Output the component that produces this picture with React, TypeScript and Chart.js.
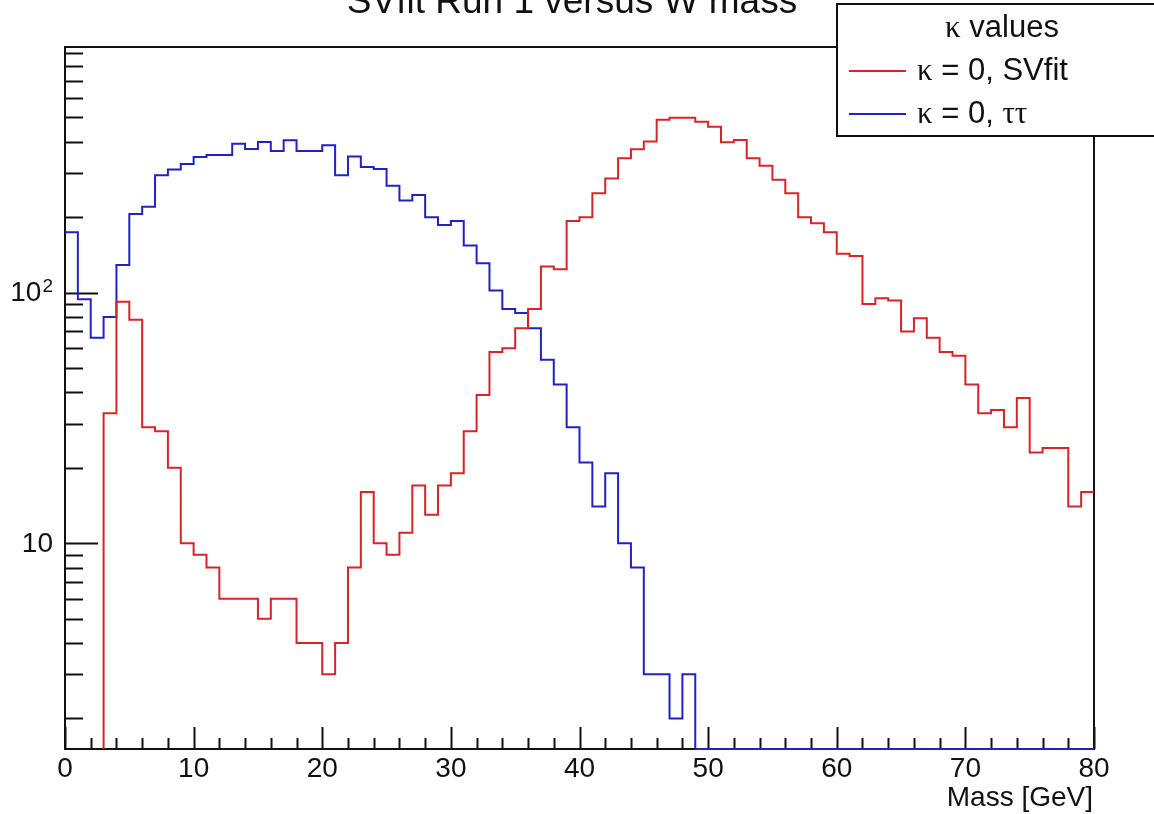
import React, { useEffect, useRef } from 'react';
import { Chart, registerables } from 'chart.js';

Chart.register(...registerables);

// ---- data (1 GeV bins from 0 to 80 GeV) ----
const binLowEdges: number[] = Array.from({ length: 80 }, (_, i) => i);
const histMax = 80;

const svfitCounts: number[] = [
  0, 0, 0, 33, 92, 78, 29, 28, 20, 10,
  9, 8, 6, 6, 6, 5, 6, 6, 4, 4,
  3, 4, 8, 16, 10, 9, 11, 17, 13, 17,
  19, 28, 39, 58, 60, 72, 86, 127, 124, 193,
  200, 249, 285, 344, 373, 401, 489, 499, 499, 481,
  459, 398, 406, 344, 321, 282, 249, 200, 189, 174,
  143, 140, 90, 95, 93, 70, 79, 66, 58, 56,
  43, 33, 34, 29, 38, 23, 24, 24, 14, 16,
];

const tautauCounts: number[] = [
  174, 94, 66, 80, 129, 206, 220, 294, 310, 326,
  348, 354, 354, 393, 374, 399, 367, 405, 367, 367,
  387, 294, 349, 317, 311, 267, 233, 245, 200, 186,
  193, 154, 131, 102, 86, 83, 72, 54, 43, 29,
  21, 14, 19, 10, 8, 3, 3, 2, 3, 0,
  0, 0, 0, 0, 0, 0, 0, 0, 0, 0,
  0, 0, 0, 0, 0, 0, 0, 0, 0, 0,
  0, 0, 0, 0, 0, 0, 0, 0, 0, 0,
];

const xTickValues: number[] = [0, 10, 20, 30, 40, 50, 60, 70, 80];
const xTickLabels: string[] = ['0', '10', '20', '30', '40', '50', '60', '70', '80'];
const xMinorStep = 2;
const yMajorValues: number[] = [10, 100];
const yMajorBase: string[] = ['10', '10'];
const yMajorExp: string[] = ['', '2'];
const yMin = 1.51;
const yMax = 955;

const titleText = 'SVfit Run 1 versus W mass';
const xAxisTitle = 'Mass [GeV]';
const legendHeader = 'values';
const seriesNames: string[] = ['SVfit', 'ττ'];
const seriesColors: string[] = ['rgb(214,36,40)', 'rgb(34,34,196)'];

const SANS = '"Liberation Sans", Arial, Helvetica, sans-serif';
const SERIF = '"Liberation Serif", "Times New Roman", serif';

// Empty bins on a log axis are drawn on the axis floor (as ROOT does)
function histPoints(counts: number[]) {
  const pts: { x: number; y: number }[] = [];
  const val = (c: number) => (c > 0 ? c : yMin);
  let first = counts.findIndex((c) => c > 0);
  if (first < 0) first = 0;
  if (first > 0) pts.push({ x: binLowEdges[first], y: yMin });
  for (let i = first; i < counts.length; i++) pts.push({ x: binLowEdges[i], y: val(counts[i]) });
  pts.push({ x: histMax, y: val(counts[counts.length - 1]) });
  return pts;
}

const rootPlugin = {
  id: 'rootStyle',
  beforeDatasetsDraw(chart: any) {
    const { ctx, chartArea: a, scales } = chart;
    const x = scales.x;
    const y = scales.y;
    ctx.save();
    ctx.strokeStyle = '#111';
    ctx.lineWidth = 2;
    ctx.strokeRect(a.left, a.top, a.right - a.left, a.bottom - a.top);
    ctx.beginPath();
    for (let v = xTickValues[0]; v <= xTickValues[xTickValues.length - 1]; v += xMinorStep) {
      const px = Math.round(x.getPixelForValue(v)) + 0.5;
      const major = xTickValues.includes(v);
      const len = major ? 22 : 11;
      ctx.moveTo(px, a.bottom);
      ctx.lineTo(px, a.bottom - len);
    }
    for (let dec = 1; dec <= 1000; dec *= 10) {
      for (let m = 1; m <= 9; m++) {
        const v = dec * m;
        if (v < yMin || v > yMax) continue;
        const py = Math.round(y.getPixelForValue(v)) + 0.5;
        const major = yMajorValues.includes(v);
        const len = major ? 33 : 18;
        ctx.moveTo(a.left, py);
        ctx.lineTo(a.left + len, py);
      }
    }
    ctx.stroke();
    ctx.restore();
  },
  afterDraw(chart: any) {
    const { ctx, chartArea: a, scales } = chart;
    const x = scales.x;
    const y = scales.y;
    ctx.save();
    ctx.fillStyle = '#111';
    ctx.font = `28px ${SANS}`;
    ctx.textAlign = 'center';
    ctx.textBaseline = 'middle';
    xTickValues.forEach((v, i) => {
      ctx.fillText(xTickLabels[i], x.getPixelForValue(v), a.bottom + 20);
    });
    yMajorValues.forEach((v, i) => {
      const py = y.getPixelForValue(v);
      const right = a.left - 12;
      let baseRight = right;
      if (yMajorExp[i]) {
        ctx.font = `19px ${SANS}`;
        ctx.textAlign = 'right';
        ctx.textBaseline = 'alphabetic';
        ctx.fillText(yMajorExp[i], right, py - 1);
        baseRight = right - ctx.measureText(yMajorExp[i]).width - 1;
      }
      ctx.font = `28px ${SANS}`;
      ctx.textAlign = 'right';
      ctx.textBaseline = 'middle';
      ctx.fillText(yMajorBase[i], baseRight, py + 1);
    });
    ctx.font = `28px ${SANS}`;
    ctx.textAlign = 'right';
    ctx.textBaseline = 'middle';
    ctx.fillText(xAxisTitle, a.right - 1, a.bottom + 49);
    ctx.font = `37px ${SANS}`;
    ctx.textAlign = 'center';
    ctx.textBaseline = 'alphabetic';
    ctx.fillText(titleText, 572, 13);
    // legend box
    const lx = 837, ly = 4, lr = 1172, lb = 136;
    ctx.fillStyle = '#fff';
    ctx.fillRect(lx, ly, lr - lx, lb - ly);
    ctx.strokeStyle = '#111';
    ctx.lineWidth = 2;
    ctx.strokeRect(lx, ly, lr - lx, lb - ly);
    ctx.fillStyle = '#111';
    const LF = 31;
    ctx.textAlign = 'left';
    ctx.textBaseline = 'alphabetic';
    ctx.font = `${LF}px ${SERIF}`;
    const kW = ctx.measureText('κ').width;
    ctx.font = `${LF}px ${SANS}`;
    const hW = ctx.measureText(' ' + legendHeader).width;
    const hx = 1002 - (kW + hW) / 2;
    ctx.font = `${LF}px ${SERIF}`;
    ctx.fillText('κ', hx, 37);
    ctx.font = `${LF}px ${SANS}`;
    ctx.fillText(' ' + legendHeader, hx + kW, 37);
    const rowBase = [80, 123];
    const rowLine = [71, 114];
    seriesNames.forEach((name, i) => {
      ctx.strokeStyle = seriesColors[i];
      ctx.lineWidth = 2;
      ctx.beginPath();
      ctx.moveTo(849, rowLine[i]);
      ctx.lineTo(906, rowLine[i]);
      ctx.stroke();
      let tx = 917;
      ctx.font = `${LF}px ${SERIF}`;
      ctx.fillText('κ', tx, rowBase[i]);
      tx += ctx.measureText('κ').width;
      ctx.font = `${LF}px ${SANS}`;
      const mid = ' = 0, ';
      ctx.fillText(mid, tx, rowBase[i]);
      tx += ctx.measureText(mid).width;
      const greek = /[α-ω]/.test(name);
      ctx.font = `${LF}px ${greek ? SERIF : SANS}`;
      ctx.fillText(name, tx, rowBase[i]);
    });
    ctx.restore();
  },
};

export default function App() {
  const canvasRef = useRef<HTMLCanvasElement | null>(null);

  useEffect(() => {
    document.body.style.margin = '0';
    const canvas = canvasRef.current;
    if (!canvas) return;
    const chart = new Chart(canvas, {
      type: 'line',
      data: {
        datasets: [
          {
            label: 'κ = 0, ' + seriesNames[0],
            data: histPoints(svfitCounts),
            borderColor: seriesColors[0],
            borderWidth: 2,
            pointRadius: 0,
            stepped: 'before',
            fill: false,
            clip: false as any,
          },
          {
            label: 'κ = 0, ' + seriesNames[1],
            data: histPoints(tautauCounts),
            borderColor: seriesColors[1],
            borderWidth: 2,
            pointRadius: 0,
            stepped: 'before',
            fill: false,
            clip: false as any,
          },
        ],
      },
      options: {
        animation: false,
        responsive: false,
        devicePixelRatio: 1,
        layout: { padding: { left: 65, right: 60, top: 47, bottom: 65 } },
        plugins: { legend: { display: false }, title: { display: false }, tooltip: { enabled: false } },
        events: [],
        scales: {
          x: { type: 'linear', min: 0, max: histMax, display: false },
          y: { type: 'logarithmic', min: yMin, max: yMax, display: false, bounds: 'data' },
        },
      },
      plugins: [rootPlugin],
    });
    return () => chart.destroy();
  }, []);

  return (
    <div style={{ width: 1154, height: 814, background: '#fff' }}>
      <canvas ref={canvasRef} width={1154} height={814} style={{ display: 'block' }} />
    </div>
  );
}
